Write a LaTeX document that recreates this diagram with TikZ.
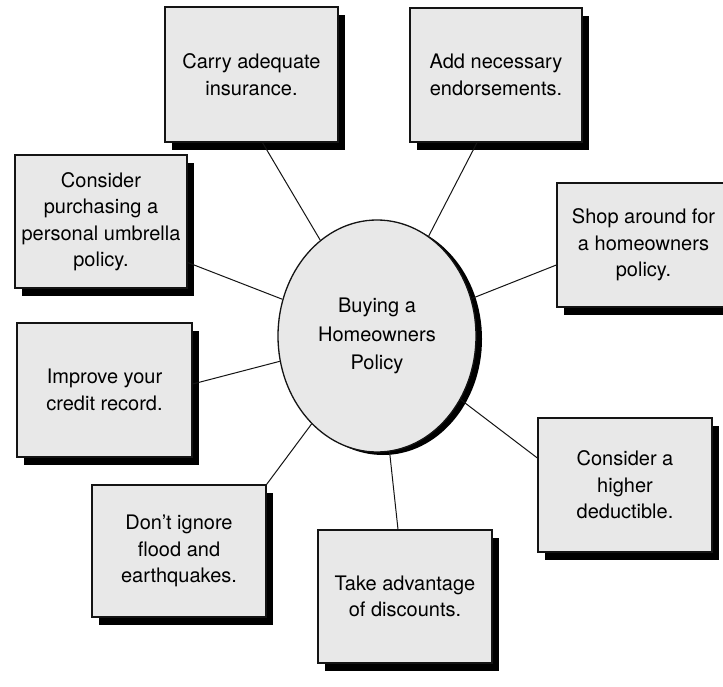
\documentclass[tikz,border=0pt]{standalone}
\usepackage{fontspec}
\setmainfont{TeX Gyre Heros}
\usepackage{tikz}
\usepackage{xcolor}
\usetikzlibrary{positioning,shapes.geometric,shadows}
\definecolor{stipple}{RGB}{232,232,232}
\definecolor{inkline}{RGB}{20,20,20}
\tikzset{
  tipbox/.style={draw=inkline, line width=1.3pt, fill=stipple, align=center, inner sep=0pt,
    minimum width=173pt, minimum height=134pt, font=\fontsize{20}{26.5}\selectfont,
    drop shadow={shadow xshift=7pt, shadow yshift=-8pt, fill=black, opacity=1}},
  hub/.style={ellipse, draw=inkline, line width=1.3pt, fill=stipple, align=center, inner sep=0pt,
    minimum width=198pt, minimum height=232pt, font=\fontsize{20}{28.5}\selectfont,
    drop shadow={shadow xshift=6pt, shadow yshift=-3pt, fill=black, opacity=1}},
  link/.style={draw=inkline, line width=1pt}
}

\begin{document}
\begin{tikzpicture}[x=1pt, y=-1pt]
    \clip (0,0) rectangle (723,687);
    \fill[white] (0,0) rectangle (723,687);
    % spokes round the hub
    \node[tipbox, minimum height=135pt] (carry) at (251.5,74.5) {Carry adequate\\insurance.};
    \node[tipbox, minimum width=172pt] (endorse) at (496,75) {Add necessary\\endorsements.};
    \node[tipbox, minimum width=172pt, minimum height=133pt] (umbrella) at (101,221.5) {Consider\\purchasing a\\personal umbrella\\policy.};
    \node[tipbox, minimum height=124pt] (shop) at (643.5,245) {Shop around for\\a homeowners\\policy.};
    \node[tipbox, minimum width=175pt] (credit) at (104.5,390) {Improve your\\credit record.};
    \node[tipbox, minimum width=174pt] (deduct) at (625,485) {Consider a\\higher\\deductible.};
    \node[tipbox, minimum width=174pt, minimum height=132pt] (flood) at (179,551) {Don’t ignore\\flood and\\earthquakes.};
    \node[tipbox, minimum width=174pt, minimum height=133pt] (discount) at (405,596.5) {Take advantage\\of discounts.};
    % centre
    \node[hub] (policy) at (377,336) {Buying a\\Homeowners\\Policy};
    \draw[link] (policy) -- ([xshift=11pt]carry.south);
    \draw[link] (policy) -- ([xshift=-19pt]endorse.south);
    \draw[link] (policy) -- ([yshift=-41pt]umbrella.east);
    \draw[link] (policy) -- ([yshift=-20pt]shop.west);
    \draw[link] (policy) -- ([yshift=6pt]credit.east);
    \draw[link] (policy) -- ([yshift=27pt]deduct.west);
    \draw[link] (policy) -- (flood.north east);
    \draw[link] (policy) -- ([xshift=-7pt]discount.north);
\end{tikzpicture}
\end{document}
